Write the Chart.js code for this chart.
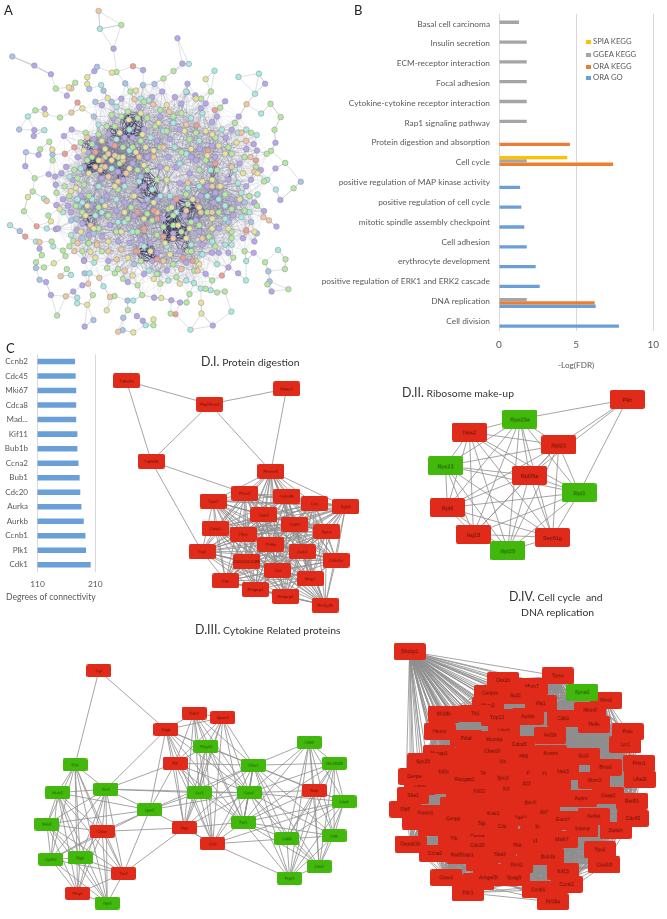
<!DOCTYPE html>
<html>
<head>
<meta charset="utf-8">
<title>Network and enrichment figure</title>
<script src="https://cdn.jsdelivr.net/npm/chart.js@4"></script>
<style>
  html, body { margin: 0; padding: 0; background: #fff; }
  #page { position: relative; width: 667px; height: 919px; overflow: hidden; font-family: Lato, sans-serif; color: #333; }
  #page canvas { position: absolute; }
  .label { position: absolute; white-space: nowrap; line-height: 1; }
  .panel { font-size: 13px; color: #222; }
  .title { font-size: 10.4px; color: #333; }
  .title b { font-weight: 400; font-size: 12.4px; }
  .legend-row { position: absolute; left: 586px; font-size: 7.7px; color: #595959; white-space: nowrap; line-height: 1; }
  .legend-row i { display: inline-block; width: 4.5px; height: 4.5px; margin-right: 2.5px; vertical-align: 0; }
</style>
</head>
<body>
<div id="page">
  <canvas id="chart-a"></canvas>
  <canvas id="chart-b"></canvas>
  <canvas id="chart-c"></canvas>
  <canvas id="chart-d1"></canvas>
  <canvas id="chart-d2"></canvas>
  <canvas id="chart-d3"></canvas>
  <canvas id="chart-d4"></canvas>

  <div class="label panel" style="left:4px;top:4px">A</div>
  <div class="label panel" style="left:354px;top:4px">B</div>
  <div class="label panel" style="left:6px;top:342px">C</div>
  <div class="label title" style="left:6px;top:593px;font-size:8.6px;color:#595959">Degrees of connectivity</div>
  <div class="label title" style="left:201px;top:356px"><b>D.I.</b> Protein digestion</div>
  <div class="label title" style="left:402px;top:387px"><b>D.II.</b> Ribosome make-up</div>
  <div class="label title" style="left:195px;top:624px"><b>D.III.</b> Cytokine Related proteins</div>
  <div class="label title" style="left:509px;top:591px"><b>D.IV.</b> Cell cycle &nbsp;and</div>
  <div class="label title" style="left:521px;top:607px">DNA replication</div>
  <div id="legend-b"></div>
</div>

<script>
/* ---------- PANEL B DATA ---------- */
const pathways = [
  'Basal cell carcinoma', 'Insulin secretion', 'ECM-receptor interaction', 'Focal adhesion',
  'Cytokine-cytokine receptor interaction', 'Rap1 signaling pathway', 'Protein digestion and absorption',
  'Cell cycle', 'positive regulation of MAP kinase activity', 'positive regulation of cell cycle',
  'mitotic spindle assembly checkpoint', 'Cell adhesion', 'erythrocyte development',
  'positive regulation of ERK1 and ERK2 cascade', 'DNA replication', 'Cell division'
];
const spiaKegg = [null, null, null, null, null, null, null, 4.43, null, null, null, null, null, null, null, null];
const ggeaKegg = [1.3, 1.8, 1.8, 1.8, 1.8, 1.8, null, 1.8, null, null, null, null, null, null, 1.8, null];
const oraKegg  = [null, null, null, null, null, null, 4.6, 7.4, null, null, null, null, null, null, 6.2, null];
const oraGo    = [null, null, null, null, null, null, null, null, 1.37, 1.45, 1.64, 1.8, 2.38, 2.64, 6.27, 7.78];
const fdrTicks = [0, 5, 10];

/* ---------- PANEL C DATA ---------- */
const hubGenes = ['Ccnb2', 'Cdc45', 'Mki67', 'Cdca8', 'Mad...', 'Kif11', 'Bub1b', 'Ccna2', 'Bub1', 'Cdc20', 'Aurka', 'Aurkb', 'Ccnb1', 'Plk1', 'Cdk1'];
const hubDegrees = [175, 176, 177, 177, 177, 179, 179, 181, 183, 184, 186, 190, 193, 194, 202];
const degreeTicks = [110, 210];

/* ---------- PANEL A DATA (x, y pairs, 3 units = 1 px) ---------- */
const aPurple = [336,136, 533,104, 92,188, 143,215, 427,202, 548,182, 803,244, 835,426, 835,505, 850,602, 838,684, 823,884, 642,989, 541,918, 426,974, 408,960, 247,992, 143,895, 212,884, 461,903, 514,911, 64,498, 105,463, 90,405, 92,387, 183,405, 123,321, 192,281, 277,205, 207,385, 136,523, 156,530, 158,555, 160,618, 158,692, 108,752, 128,855, 245,788, 240,865,
  336,350, 415,315, 486,268, 525,285, 564,244, 588,280, 680,298, 620,305, 722,345, 640,362, 682,410, 768,430, 778,450, 640,435, 602,445, 540,385, 480,345, 430,385, 370,410, 330,430, 275,415, 258,455, 225,470, 300,535, 350,515, 395,490, 440,470, 505,470, 570,520, 625,560, 690,540, 725,490, 790,510, 745,560, 770,610, 800,636, 705,650, 645,610, 590,665, 520,610, 470,600, 410,575, 345,635, 285,560, 235,590, 195,620, 222,695, 165,690, 260,710, 325,680, 385,735, 450,735, 520,705, 600,700, 660,765, 720,828, 690,810, 770,730, 768,765, 620,830, 560,795, 500,820, 430,830, 380,855, 320,790, 245,790, 455,790, 400,650, 540,550, 480,500, 640,765, 690,765,
  300,310, 360,290, 455,285, 545,305, 605,320, 655,345, 700,385, 745,445, 760,540, 720,610, 660,690, 610,740, 540,760, 470,765, 420,725, 350,730, 300,715, 240,675, 205,640, 210,540, 245,500, 280,440, 320,400, 395,410, 470,420, 530,500, 590,480, 650,470, 605,590, 555,650, 490,660, 430,620, 370,610, 315,590, 265,620, 190,500, 175,520, 180,600, 735,720, 700,600, 650,580, 430,560, 365,540, 510,415, 575,470];
const aGreen = [360,63, 345,208, 521,205, 490,228, 820,306, 851,347, 832,386, 821,451, 865,488, 891,566, 866,785, 803,794, 864,815, 810,862, 875,877, 679,884, 561,918, 512,952, 459,988, 380,941, 162,958, 339,898, 424,895, 570,892, 620,876, 655,887, 60,637, 87,576, 93,535, 138,423, 95,326, 171,348, 158,259, 218,241, 148,480, 110,446, 135,650, 115,772, 97,794, 122,810, 192,815, 180,758, 188,775, 212,728, 258,735, 272,895, 316,812, 340,828,
  388,268, 430,300, 480,325, 545,335, 606,290, 636,268, 665,318, 710,365, 760,395, 808,460, 775,500, 800,545, 778,620, 740,635, 680,585, 625,640, 565,615, 505,630, 455,665, 390,625, 350,570, 290,625, 240,640, 200,590, 160,580, 245,555, 300,500, 350,470, 395,440, 340,375, 290,400, 235,425, 215,510, 270,470, 330,340, 380,330, 440,350, 500,390, 570,415, 620,480, 655,510, 700,460, 500,545, 440,510, 520,680, 575,670, 630,715, 700,700, 740,760, 705,780, 640,850, 585,820, 530,840, 480,860, 410,865, 365,845, 300,760, 260,735, 200,745, 145,730, 565,760, 575,760, 470,710, 410,700, 345,700,
  360,345, 410,350, 465,375, 520,345, 590,395, 650,410, 690,440, 740,470, 755,590, 700,630, 660,640, 600,680, 545,700, 490,685, 440,645, 380,660, 320,650, 260,590, 220,620, 185,560, 225,535, 255,480, 310,470, 365,440, 420,420, 480,440, 545,455, 600,510, 560,585, 520,650, 470,540, 410,510, 355,490, 270,430, 250,395, 315,375, 700,720, 650,745, 590,790, 520,800, 470,830, 420,790, 350,815, 290,690, 240,760];
const aCyan = [294,75, 568,183, 647,204, 721,223, 784,213, 772,275, 791,336, 777,402, 836,570, 843,756, 744,850, 699,946, 573,1002, 584,858, 605,875, 635,880, 435,988, 397,912, 224,903, 224,920, 17,680, 130,690, 72,345, 123,387, 298,248, 122,598, 97,730, 150,745, 205,833, 262,828, 276,795, 305,868,
  345,315, 420,290, 445,295, 560,268, 610,335, 575,350, 520,365, 450,410, 385,450, 525,440, 600,420, 670,385, 720,395, 745,385, 810,540, 780,585, 730,580, 680,620, 625,590, 565,565, 540,490, 480,590, 415,545, 345,600, 270,600, 225,600, 180,640, 205,710, 280,650, 350,670, 395,700, 445,820, 505,850, 560,850, 610,770, 655,800, 680,740, 730,655, 745,790, 510,590, 385,385,
  290,370, 345,415, 415,470, 490,390, 560,460, 635,510, 710,510, 755,640, 700,740, 640,730, 575,740, 500,745, 430,745, 370,670, 300,640, 240,610, 200,530, 235,505, 290,560, 330,505, 370,560, 455,570, 530,640, 600,560, 660,600, 720,550, 680,660];
const aYellow = [331,210, 620,230, 606,919, 607,952, 459,970, 397,1010, 255,925, 315,942, 483,904, 72,593, 126,338, 240,320, 198,255, 255,224, 255,245, 147,447, 143,668, 152,797, 265,762,
  405,265, 318,288, 383,355, 355,395, 310,445, 290,480, 330,480, 385,505, 430,495, 460,450, 405,455, 260,520, 220,565, 170,630, 235,700, 275,690, 340,560, 395,590, 460,610, 515,625, 580,600, 640,540, 625,465, 715,425, 780,520, 770,700, 690,690, 640,660, 600,625, 535,680, 450,760, 395,835, 360,700, 280,780, 510,770, 560,720, 590,290, 500,310, 620,390, 400,590, 500,540, 660,435,
  420,335, 475,365, 555,390, 640,400, 680,460, 735,520, 725,600, 665,560, 610,545, 570,690, 495,735, 430,660, 370,640, 310,620, 250,650, 205,575, 245,450, 300,420, 365,470, 435,440, 500,505, 575,445, 640,690, 600,800, 540,860, 460,845, 380,780, 320,730, 255,620, 425,400];
const aPeach = [290,20, 746,307, 350,1008, 189,899, 325,901, 206,333, 206,258, 130,605, 108,732, 173,837, 292,842, 215,760, 285,735, 258,860,
  400,292, 458,308, 508,330, 560,370, 295,510, 320,530, 350,545, 375,520, 340,465, 460,470, 255,410, 730,395, 745,420, 758,470, 770,515, 798,655, 815,665, 745,700, 610,720, 640,560, 560,635, 470,640, 430,695, 285,740, 225,735, 360,755, 410,760, 345,785, 545,815, 595,820,
  320,460, 280,500, 310,500, 365,480, 415,470, 490,440, 565,550, 605,640, 520,720, 490,790, 370,820, 320,760, 265,680, 660,560, 700,500, 640,640];
const aSalmon = [396,190, 527,954, 64,715, 99,683, 225,302, 186,460,
  648,325, 592,372, 215,440, 340,435, 595,620, 460,635, 430,690, 405,760, 490,715, 550,780, 470,785, 745,695, 775,480, 670,835, 627,450, 280,455,
  470,660, 530,600, 410,640, 300,480, 650,490, 580,790];
const aBlue = [24,160, 285,192, 261,260, 47,698, 66,455, 45,385, 148,462, 97,812, 108,848, 247,828, 813,822, 817,853, 366,965, 364,1003, 379,912, 274,972, 913,546,
  372,243, 427,248, 462,245, 562,270, 305,265, 275,345, 420,530, 300,605, 205,665, 275,705, 222,660, 778,705, 745,640, 400,800, 475,830,
  330,300, 280,300, 230,620, 240,720, 690,670, 740,610, 760,670, 440,600];
// dark knots of heavy edges: x, y, reach
const aDarkKnots = [395,375,38, 340,395,26, 250,435,26, 265,500,30, 300,515,24, 370,520,26, 450,555,38, 465,515,26, 520,690,40, 560,630,34, 510,640,22, 650,510,30, 700,520,22, 440,770,34, 260,665,24, 540,740,30, 610,650,24, 420,600,20];
const aCore = [480, 560, 350];

/* ---------- PANEL D.I DATA ---------- */
const namesD1 = ['Tuba4a', 'Hsp90aa1', 'Hdac1', 'Tubb4b', 'Rnase1', 'Prss2', 'Cela3b', 'Cpa2', 'Ctrl', 'Zg16', 'Cpa1', 'Cpb1', 'Cela1', 'Clps', 'Sycn', 'Pnlip', 'Try5', 'Ctrb1', '2210010C04Rik', 'Cela2a', 'Cel', 'Reg1', 'Ctrc', 'Pnliprp1', 'Pnliprp2', 'Pla2g1b'];
const xD1 = [64, 325, 566, 142, 517, 435, 567, 336, 653, 751, 495, 592, 342, 430, 692, 517, 301, 615, 440, 721, 538, 640, 375, 468, 563, 687];
const yD1 = [78, 151, 103, 330, 361, 430, 439, 455, 463, 472, 498, 527, 541, 558, 551, 590, 613, 614, 644, 640, 672, 698, 705, 732, 754, 781];
const edgesD1 = [['Tuba4a', 'Hsp90aa1'], ['Tuba4a', 'Tubb4b'], ['Hsp90aa1', 'Hdac1'], ['Hsp90aa1', 'Tubb4b'], ['Hsp90aa1', 'Rnase1'], ['Hdac1', 'Rnase1'], ['Tubb4b', 'Prss2'], ['Tubb4b', 'Try5']];
const cliquesD1 = [namesD1.slice(4)];

/* ---------- PANEL D.II DATA ---------- */
const namesD2 = ['Pklr', 'Rps15a', 'Nsa2', 'Rpl21', 'Rps23', 'Rpl36a', 'Rpl3', 'Rpl6', 'Isg15', 'Sec61g', 'Rpl29'];
const xD2 = [695, 358, 199, 480, 124, 388, 544, 130, 212, 460, 320];
const yD2 = [137, 199, 240, 281, 347, 377, 432, 479, 563, 573, 615];
const greenD2 = ['Rps15a', 'Rps23', 'Rpl3', 'Rpl29'];
const edgesD2 = [['Pklr', 'Rps15a'], ['Pklr', 'Rpl21'], ['Pklr', 'Rpl36a'], ['Pklr', 'Rpl3']];
const cliquesD2 = [namesD2.slice(1)];

/* ---------- PANEL D.III DATA ---------- */
const namesD3 = ['Tryt', 'S1pr2', 'Gpsm2', 'Pdgb', 'P2ry14', 'Lilrb4', 'Gm14548', 'Pf4', 'C5ar1', 'F2rl', 'Hcrtr2', 'Xcr1', 'Ccr5', 'Cxcr2', 'Rxfp', 'Lilra6', 'Lpar2', 'Fpr1', 'Edn3', 'Cckar', 'Npy', 'Ccl5', 'Cd44', 'Lilrb', 'Cysltr2', 'Ptgfr', 'Tac2', 'Lilra5', 'Fcgr3', 'P2ry1', 'Gpr4'];
const xD3 = [288, 583, 672, 496, 620, 940, 1018, 524, 767, 214, 160, 310, 599, 754, 956, 1048, 445, 736, 127, 298, 553, 641, 871, 1017, 139, 230, 364, 971, 879, 222, 314];
const yD3 = [140, 272, 286, 324, 377, 363, 429, 429, 435, 434, 521, 510, 521, 521, 514, 549, 575, 613, 619, 642, 631, 681, 665, 656, 729, 725, 773, 751, 788, 836, 866];
const redD3 = ['Tryt', 'S1pr2', 'Gpsm2', 'Pdgb', 'Pf4', 'Rxfp', 'Cckar', 'Npy', 'Ccl5', 'Tac2', 'P2ry1'];
const edgesD3 = [['Tryt', 'F2rl'], ['Tryt', 'Pdgb'], ['Xcr1', 'Pdgb'], ['Xcr1', 'Pf4'], ['Xcr1', 'Ccr5'], ['Xcr1', 'Cxcr2'], ['Xcr1', 'Lpar2'], ['Lpar2', 'Pdgb'], ['Lpar2', 'Npy'], ['Lpar2', 'Ccr5'], ['Lpar2', 'Pf4'], ['Lpar2', 'Cxcr2'], ['Lpar2', 'C5ar1'], ['Lpar2', 'Hcrtr2'], ['Lpar2', 'Edn3'], ['Lpar2', 'Cckar'], ['Lpar2', 'Tac2'], ['Lpar2', 'Cysltr2'], ['Cckar', 'Npy'], ['Npy', 'Ccl5'], ['Npy', 'Tac2'], ['Ccl5', 'Fcgr3'], ['Ccl5', 'Cd44'], ['Ccl5', 'Lilra6']];
const cliquesD3 = [
  ['F2rl', 'Hcrtr2', 'Xcr1', 'Edn3', 'Cckar', 'Cysltr2', 'Ptgfr', 'Tac2', 'P2ry1', 'Gpr4'],
  ['S1pr2', 'Gpsm2', 'Pdgb', 'P2ry14', 'Pf4', 'C5ar1', 'Ccr5', 'Cxcr2', 'Fpr1', 'Npy', 'Ccl5'],
  ['Lilrb4', 'Gm14548', 'Rxfp', 'Lilra6', 'C5ar1', 'Cxcr2', 'Fpr1', 'Cd44', 'Lilrb', 'Lilra5', 'Fcgr3']
];

/* ---------- PANEL D.IV DATA ---------- */
const namesD4 = ['Shcbp1', 'Tyms', 'Cks1b', 'Mcm7', 'Cenpm', 'Rrm1', 'Mcm2', 'Nuf2', 'Plk1', 'Mcm6', 'Kif18b', 'Tk1', 'Trip13', 'Aurkb', 'Cdk1', 'Hells', 'Hmmr', 'Uhrf1', 'Pole', 'Pclaf', 'Mcmbp', 'Asf1b', 'Lrr1', 'Cdca5', 'Nusap1', 'Ckap2l', 'Ncapg', 'Knstrn', 'Ect2', 'Spc25', 'Ub', 'Brca1', 'Prim1', 'Cdc6', 'Cenpe', 'Kif2c', 'Dtl', 'Spc24', 'Fi', 'Fa', 'Nek3', 'Mcm3', 'Ube2t', 'Racgap1', 'Kif23', 'Kif', 'Kif22', 'Ckap2', 'Ska1', 'Aspm', 'Rad51', 'Birc5', 'Oip5', 'Foxm1', 'Jpt1', 'Cenpp', 'Kntc1', 'Nek2', 'Esco2', 'Aurka', 'Cdc45', 'Sgo1', 'Incenp', 'Cdc', 'Ip', 'Zwilch', 'Ttk', 'Cenpa', 'Mki67', 'o1', 'Pbk', 'Depdc1b', 'Ccna2', 'Cdc20', 'Rad51ap1', 'Ska3', 'Tpx2', 'Bub1b', 'Cisd18', 'Rrm2', 'Kif15', 'Gtse1', 'Arhgef39', 'Spag5', 'Ccnb2', 'Ccnb1', 'Kifc1', 'Kif18a', 'Kpna2'];
const xD4 = [105, 568, 397, 488, 356, 720, 350, 436, 515, 670, 212, 310, 378, 474, 586, 681, 199, 401, 787, 282, 370, 545, 780, 448, 197, 363, 452, 546, 649, 147, 396, 718, 822, 137, 120, 212, 333, 400, 478, 530, 585, 683, 825, 277, 465, 407, 323, 726, 116, 641, 800, 483, 92, 155, 525, 241, 367, 453, 585, 680, 803, 337, 645, 395, 505, 749, 244, 317, 581, 497, 442, 108, 184, 317, 269, 387, 700, 538, 714, 440, 585, 220, 354, 432, 596, 507, 287, 553, 645];
const yD4 = [111, 187, 201, 220, 241, 263, 280, 249, 274, 294, 306, 305, 317, 314, 320, 338, 361, 359, 361, 382, 386, 372, 402, 401, 429, 422, 436, 429, 437, 455, 455, 472, 460, 531, 501, 487, 491, 506, 491, 492, 486, 513, 510, 510, 524, 540, 547, 561, 560, 570, 578, 584, 603, 615, 612, 633, 617, 630, 635, 625, 632, 647, 664, 657, 657, 670, 695, 688, 698, 702, 716, 712, 741, 716, 746, 744, 730, 752, 777, 777, 798, 817, 817, 817, 838, 855, 864, 892, 238];
const greenD4 = ['Kpna2'];
const fillerXD4 = [390, 300, 250, 230, 280, 340, 440, 520, 590, 560, 500, 430, 360, 270, 210, 350, 300, 250, 280, 420, 530, 590, 520, 460, 380, 330, 400, 500, 600, 240, 320, 380, 490, 180, 130];
const fillerYD4 = [400, 420, 440, 470, 460, 460, 470, 460, 440, 520, 530, 570, 520, 550, 530, 590, 600, 590, 680, 610, 650, 570, 570, 690, 690, 770, 700, 680, 640, 740, 830, 800, 750, 660, 640];

/* ---------- COLOURS ---------- */
const RED = '#e02b1a';
const GREEN = '#41b80b';
const EDGE = '#8e8e8e';

/* ---------- NODE SPRITES ---------- */
function nodeSprite(text, color, w, h, fontPx) {
  const c = document.createElement('canvas');
  c.width = w;
  c.height = h;
  const g = c.getContext('2d');
  g.fillStyle = color;
  g.beginPath();
  g.roundRect(0, 0, w, h, 2);
  g.fill();
  if (text) {
    g.fillStyle = color === GREEN ? '#1d5206' : '#5e130a';
    g.font = fontPx + 'px "Liberation Sans"';
    g.textAlign = 'center';
    g.textBaseline = 'middle';
    g.fillText(text, w / 2, h / 2 + 0.5);
  }
  return c;
}

/* ---------- NETWORK CHARTS ---------- */
function placeCanvas(id, box) {
  const el = document.getElementById(id);
  el.width = box.width;
  el.height = box.height;
  el.style.left = box.left + 'px';
  el.style.top = box.top + 'px';
  el.style.width = box.width + 'px';
  el.style.height = box.height + 'px';
  return el;
}

function hiddenScale(max, reverse) {
  return { type: 'linear', display: false, min: 0, max, reverse: !!reverse };
}

// every node is one library point, the edges are drawn under them from the same scales
function networkChart(id, box, cfg) {
  const el = placeCanvas(id, box);
  const index = {};
  cfg.names.forEach((n, i) => { index[n] = i; });
  const pairs = cfg.edges.map(e => [index[e[0]], index[e[1]]]);
  cfg.cliques.forEach(group => {
    group.forEach((a, i) => {
      group.slice(i + 1).forEach(b => pairs.push([index[a], index[b]]));
    });
  });

  const points = cfg.names.map((n, i) => ({ x: cfg.xs[i], y: cfg.ys[i] }));
  const sprites = cfg.names.map(n => nodeSprite(n, cfg.colorOf(n), cfg.w, cfg.h, cfg.font));
  const fillers = (cfg.fillerX || []).map((x, i) => ({ x, y: cfg.fillerY[i] }));
  const blank = nodeSprite('', RED, cfg.w, cfg.h, cfg.font);

  return new Chart(el, {
    type: 'scatter',
    data: {
      datasets: [
        { data: points, pointStyle: sprites, pointRadius: 5, order: 1 },
        { data: fillers, pointStyle: blank, pointRadius: 5, order: 2 }
      ]
    },
    options: {
      responsive: false,
      animation: false,
      layout: { padding: 0 },
      plugins: { legend: { display: false }, tooltip: { enabled: false } },
      scales: { x: hiddenScale(box.width * 3), y: hiddenScale(box.height * 3, true) }
    },
    plugins: [{
      id: 'edges',
      beforeDatasetsDraw(chart) {
        const ctx = chart.ctx;
        const sx = chart.scales.x;
        const sy = chart.scales.y;
        ctx.save();
        ctx.strokeStyle = EDGE;
        ctx.lineWidth = cfg.edgeWidth;
        pairs.forEach(([a, b]) => {
          ctx.beginPath();
          ctx.moveTo(sx.getPixelForValue(points[a].x), sy.getPixelForValue(points[a].y));
          ctx.lineTo(sx.getPixelForValue(points[b].x), sy.getPixelForValue(points[b].y));
          ctx.stroke();
        });
        ctx.restore();
      }
    }]
  });
}

networkChart('chart-d1', { left: 100, top: 350, width: 280, height: 280 }, {
  names: namesD1, xs: xD1, ys: yD1, edges: edgesD1, cliques: cliquesD1,
  colorOf: () => RED, w: 27, h: 15, font: 4.4, edgeWidth: 0.8
});
networkChart('chart-d2', { left: 400, top: 350, width: 267, height: 240 }, {
  names: namesD2, xs: xD2, ys: yD2, edges: edgesD2, cliques: cliquesD2,
  colorOf: n => greenD2.includes(n) ? GREEN : RED, w: 35, h: 19, font: 5.6, edgeWidth: 0.8
});
networkChart('chart-d3', { left: 0, top: 620, width: 370, height: 299 }, {
  names: namesD3, xs: xD3, ys: yD3, edges: edgesD3, cliques: cliquesD3,
  colorOf: n => redD3.includes(n) ? RED : GREEN, w: 25, h: 13, font: 3.8, edgeWidth: 0.8
});
networkChart('chart-d4', { left: 370, top: 610, width: 297, height: 309 }, {
  names: namesD4, xs: xD4, ys: yD4, edges: [], cliques: [namesD4],
  colorOf: n => greenD4.includes(n) ? GREEN : RED, w: 32, h: 17, font: 5, edgeWidth: 0.8,
  fillerX: fillerXD4, fillerY: fillerYD4
});

/* ---------- PANEL A ---------- */
function pairsToPoints(flat) {
  const pts = [];
  for (let i = 0; i < flat.length; i += 2) pts.push({ x: flat[i], y: flat[i + 1] });
  return pts;
}

// first group ends up on top
const aGroups = [
  { data: aYellow, color: '#e7e398' },
  { data: aSalmon, color: '#eea090' },
  { data: aPeach, color: '#efc89e' },
  { data: aGreen, color: '#b5e99e' },
  { data: aCyan, color: '#a9e9de' },
  { data: aBlue, color: '#a8c5e6' },
  { data: aPurple, color: '#b6a8e8' }
];

new Chart(placeCanvas('chart-a', { left: 0, top: 0, width: 340, height: 345 }), {
  type: 'scatter',
  data: {
    datasets: aGroups.map(g => ({
      data: pairsToPoints(g.data),
      backgroundColor: g.color,
      borderColor: '#8d8d9c',
      borderWidth: 0.5,
      pointRadius: 2.8
    }))
  },
  options: {
    responsive: false,
    animation: false,
    layout: { padding: 0 },
    plugins: { legend: { display: false }, tooltip: { enabled: false } },
    scales: { x: hiddenScale(1020), y: hiddenScale(1035, true) }
  },
  plugins: [{
    id: 'stringEdges',
    beforeDatasetsDraw(chart) {
      const ctx = chart.ctx;
      const sx = chart.scales.x;
      const sy = chart.scales.y;
      const all = chart.data.datasets.flatMap(d => d.data);
      const coreDist = p => Math.hypot(p.x - aCore[0], p.y - aCore[1]);
      const line = (p, q) => {
        ctx.beginPath();
        ctx.moveTo(sx.getPixelForValue(p.x), sy.getPixelForValue(p.y));
        ctx.lineTo(sx.getPixelForValue(q.x), sy.getPixelForValue(q.y));
        ctx.stroke();
      };
      ctx.save();
      // outer nodes hang on a line or two, the web thins out towards the rim of the core
      ctx.lineWidth = 0.45;
      all.forEach((p, i) => {
        const near = all.map((q, j) => ({ q, j, d: Math.hypot(p.x - q.x, p.y - q.y) }))
          .filter(o => o.j !== i).sort((a, b) => a.d - b.d);
        ctx.strokeStyle = '#b9b9c6';
        near.slice(0, 2).forEach(o => line(p, o.q));
        const rim = Math.max(coreDist(p), 0);
        if (rim > aCore[2]) return;
        const reach = rim < 250 ? 105 : 70;
        ctx.strokeStyle = rim < 250 ? 'rgba(100,100,130,0.3)' : 'rgba(120,120,145,0.22)';
        near.filter(o => o.d < reach && o.j > i && coreDist(o.q) < aCore[2]).forEach(o => line(p, o.q));
      });
      // dark knots of heavy edges
      ctx.strokeStyle = 'rgba(30,30,65,0.75)';
      ctx.lineWidth = 0.5;
      for (let k = 0; k < aDarkKnots.length; k += 3) {
        const inside = all.filter(p => Math.hypot(p.x - aDarkKnots[k], p.y - aDarkKnots[k + 1]) < aDarkKnots[k + 2] * 1.3);
        inside.forEach((p, i) => inside.slice(i + 1).forEach(q => line(p, q)));
      }
      ctx.restore();
    }
  }]
});

/* ---------- PANEL B ---------- */
const seriesB = [
  { label: 'SPIA KEGG', data: spiaKegg, backgroundColor: '#ffc000' },
  { label: 'GGEA KEGG', data: ggeaKegg, backgroundColor: '#a5a5a5' },
  { label: 'ORA KEGG', data: oraKegg, backgroundColor: '#ed7d31' },
  { label: 'ORA GO', data: oraGo, backgroundColor: '#6a9fd8' }
];

new Chart(placeCanvas('chart-b', { left: 300, top: 0, width: 367, height: 370 }), {
  type: 'bar',
  data: { labels: pathways, datasets: seriesB },
  options: {
    indexAxis: 'y',
    responsive: false,
    animation: false,
    layout: { padding: { top: 11, right: 7.7, left: 0, bottom: 0 } },
    datasets: { bar: { categoryPercentage: 0.67, barPercentage: 1 } },
    plugins: { legend: { display: false }, tooltip: { enabled: false } },
    scales: {
      x: {
        min: 0, max: 10,
        afterBuildTicks(scale) { scale.ticks = fdrTicks.map(value => ({ value })); },
        afterFit(scale) { scale.height = 39; },
        border: { display: false },
        grid: { color: '#d9d9d9', drawTicks: false },
        ticks: { color: '#595959', font: { family: 'Lato', size: 10 }, padding: 8 },
        title: { display: true, text: '-Log(FDR)', color: '#595959', font: { family: 'Lato', size: 8.2 }, padding: { top: 1, bottom: 0 } }
      },
      y: {
        afterFit(scale) { scale.width = 199; },
        border: { display: false },
        grid: { display: false, drawTicks: false },
        ticks: { color: '#595959', font: { family: 'Lato', size: 8.3 }, autoSkip: false, padding: 9 }
      }
    }
  }
});

// legend sits inside the plot
document.getElementById('legend-b').innerHTML = seriesB.map((s, i) => {
  const top = [38, 51, 63, 74][i];
  return `<div class="legend-row" style="top:${top}px"><i style="background:${s.backgroundColor}"></i>${s.label}</div>`;
}).join('');

/* ---------- PANEL C ---------- */
new Chart(placeCanvas('chart-c', { left: 0, top: 340, width: 110, height: 252 }), {
  type: 'bar',
  data: { labels: hubGenes, datasets: [{ data: hubDegrees, backgroundColor: '#6a9fd8' }] },
  options: {
    indexAxis: 'y',
    responsive: false,
    animation: false,
    layout: { padding: { top: 11, right: 14.7, left: 0, bottom: 0 } },
    datasets: { bar: { categoryPercentage: 0.38, barPercentage: 1 } },
    plugins: { legend: { display: false }, tooltip: { enabled: false } },
    scales: {
      x: {
        min: 110, max: 210,
        afterBuildTicks(scale) { scale.ticks = degreeTicks.map(value => ({ value })); },
        afterFit(scale) { scale.height = 20; },
        border: { display: false },
        grid: { color: '#d9d9d9', drawTicks: false },
        ticks: { color: '#595959', font: { family: 'Lato', size: 8.4 }, padding: 7 }
      },
      y: {
        afterFit(scale) { scale.width = 37.5; },
        border: { display: false },
        grid: { display: false, drawTicks: false },
        ticks: { color: '#595959', font: { family: 'Lato', size: 8 }, autoSkip: false, padding: 9.5 }
      }
    }
  }
});
</script>
</body>
</html>
